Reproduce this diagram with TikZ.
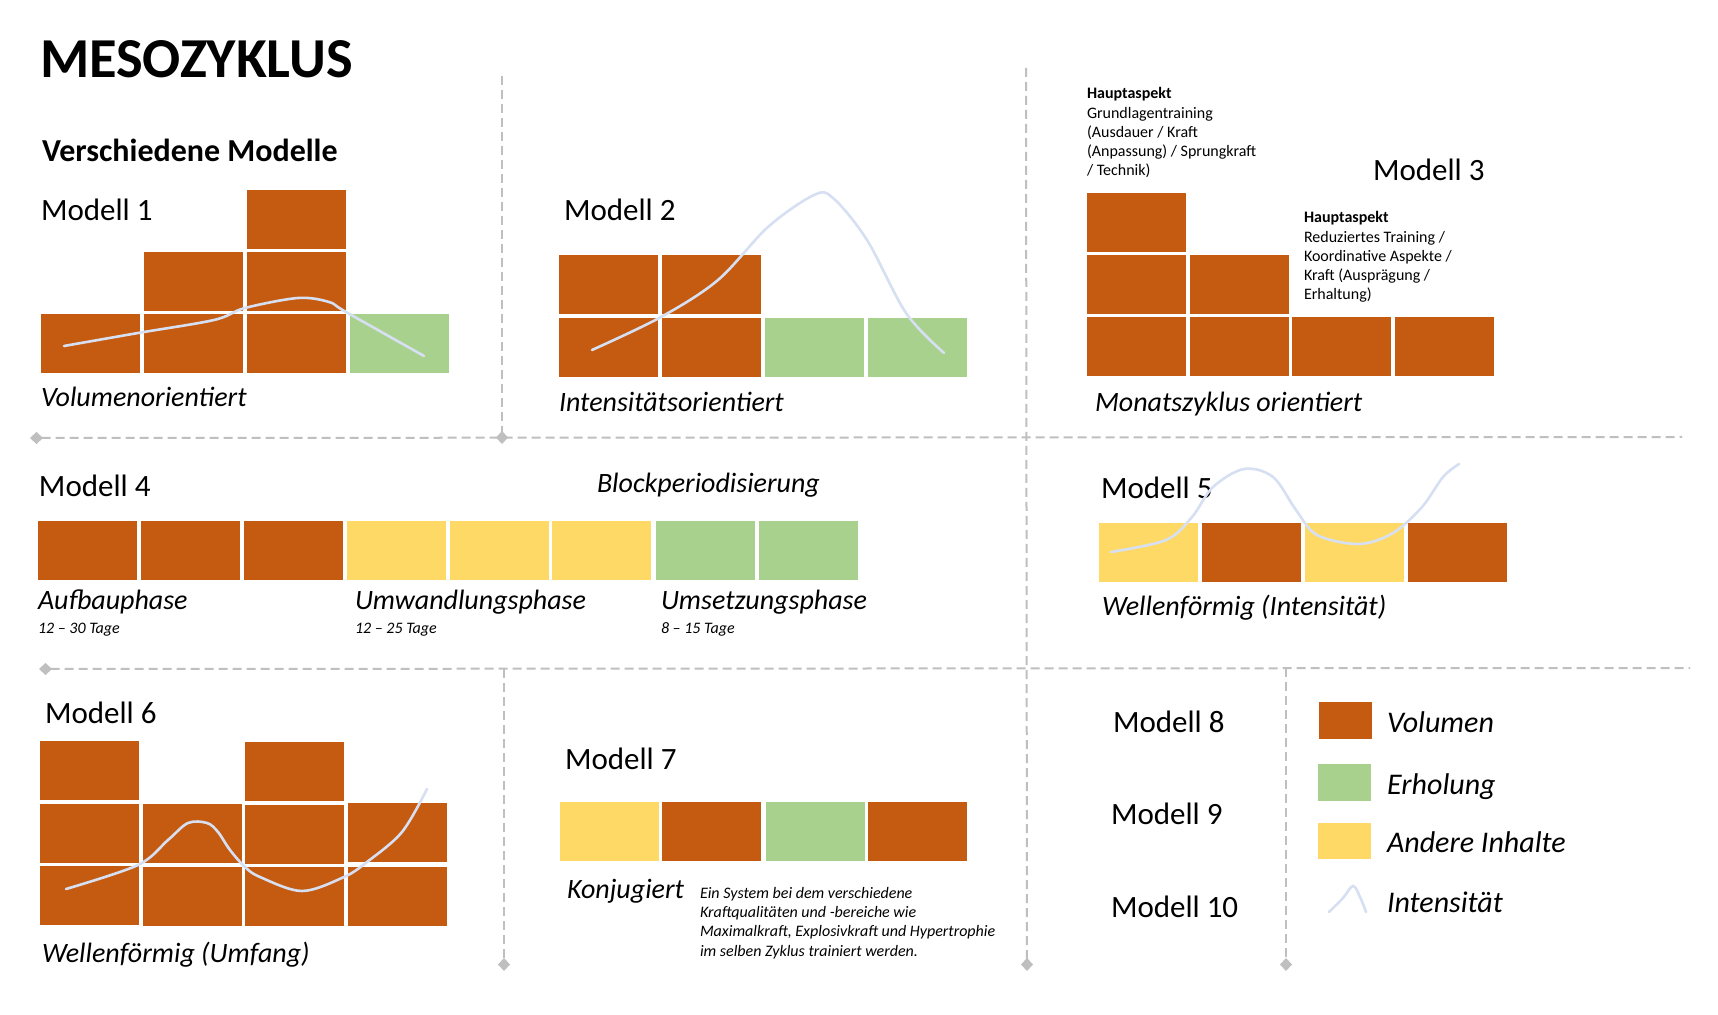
\documentclass[tikz,border=0pt]{standalone}
\usepackage{fontspec}
\setmainfont{Carlito}
\usetikzlibrary{arrows.meta}
\definecolor{vol}{HTML}{C55A11}
\definecolor{erh}{HTML}{A9D18E}
\definecolor{and}{HTML}{FFD966}
\definecolor{intc}{HTML}{D6E0F2}
\definecolor{sepc}{HTML}{BFBFBF}
\newcommand{\blk}[3]{\fill[#1] (#2,#3) rectangle ++(99,59);}
\tikzset{
  lbl/.style={anchor=base west, inner sep=0pt, outer sep=0pt},
  mtitle/.style={lbl, font=\fontsize{15.5}{18}\selectfont},
  ital/.style={lbl, font=\fontsize{14}{17}\selectfont\itshape},
  legtxt/.style={lbl, font=\fontsize{15}{18}\selectfont\itshape},
  tiny/.style={lbl, font=\fontsize{8}{9.65}\selectfont, align=left},
  tinyit/.style={lbl, font=\fontsize{8}{9.65}\selectfont\itshape, align=left},
  sepline/.style={draw=sepc, line width=1pt, dash pattern=on 4.5pt off 2.5pt},
  dia/.style={-{Diamond[length=6.5pt,width=6pt,fill=sepc,color=sepc]}},
  diaL/.style={{Diamond[length=6.5pt,width=6pt,fill=sepc,color=sepc]}-},
  intline/.style={draw=intc, line width=1.3pt, line cap=round}
}
\begin{document}
\begin{tikzpicture}[x=0.5pt,y=-0.5pt]
\useasboundingbox[fill=white] (0,0) rectangle (1718,1015);

% separators
\coordinate (v1t) at (502,76);   \coordinate (v1b) at (502,444);
\coordinate (h1l) at (30,438);   \coordinate (h1r) at (1682,437);
\coordinate (v2t) at (1026,68);  \coordinate (v2b) at (1027,971);
\coordinate (h2l) at (39,669);   \coordinate (h2r) at (1690,668);
\coordinate (v3t) at (504,669);  \coordinate (v3b) at (504,971);
\coordinate (v4t) at (1286,668); \coordinate (v4b) at (1286,971);
\draw[sepline,dia] (v1t) -- (v1b);
\draw[sepline,diaL] (h1l) -- (h1r);
\draw[sepline,dia] (v2t) -- (v2b);
\draw[sepline,diaL] (h2l) -- (h2r);
\draw[sepline,dia] (v3t) -- (v3b);
\draw[sepline,dia] (v4t) -- (v4b);

% titles
\node[lbl, font=\fontsize{28.2}{33}\selectfont\bfseries] (title) at (40,78) {MESOZYKLUS};
\node[lbl, font=\fontsize{16}{19}\selectfont\bfseries] (sub) at (42,162) {Verschiedene Modelle};

% Modell 1
\node[mtitle] (m1) at (41,221) {Modell 1};
\blk{vol}{41}{314}\blk{vol}{144}{314}\blk{vol}{247}{314}\blk{erh}{350}{314}
\blk{vol}{144}{252}\blk{vol}{247}{252}
\blk{vol}{247}{190}
\draw[intline] plot[smooth, tension=0.55] coordinates {(64,346) (138,333) (214,320) (245,308) (298,298) (329,302) (346,312) (424,356)};
\node[ital] (m1l) at (41,407) {Volumenorientiert};

% Modell 2
\node[mtitle] (m2) at (564,221) {Modell 2};
\blk{vol}{559}{255}\blk{vol}{662}{255}
\blk{vol}{559}{318}\blk{vol}{662}{318}\blk{erh}{765}{318}\blk{erh}{868}{318}
\draw[intline] plot[smooth, tension=0.55] coordinates {(592,350) (661,317) (718,280) (768,227) (814,195) (833,198) (867,240) (906,313) (944,353)};
\node[ital] (m2l) at (559,412) {Intensitätsorientiert};

% Modell 3
\node[tiny] (m3a) at (1087,176) {\textbf{Hauptaspekt}\\Grundlagentraining\\(Ausdauer / Kraft\\(Anpassung) / Sprungkraft\\/ Technik)};
\node[mtitle] (m3) at (1373,181) {Modell 3};
\node[tiny] (m3b) at (1304,300) {\textbf{Hauptaspekt}\\Reduziertes Training /\\Koordinative Aspekte /\\Kraft (Ausprägung /\\Erhaltung)};
\blk{vol}{1087}{193}
\blk{vol}{1087}{255}\blk{vol}{1190}{255}
\blk{vol}{1087}{317}\blk{vol}{1190}{317}\blk{vol}{1292}{317}\blk{vol}{1395}{317}
\node[ital] (m3l) at (1095,412) {Monatszyklus orientiert};

% Modell 4
\node[mtitle] (m4) at (39,497) {Modell 4};
\node[ital] (m4t) at (597,493) {Blockperiodisierung};
\blk{vol}{38}{521}\blk{vol}{141}{521}\blk{vol}{244}{521}
\blk{and}{347}{521}\blk{and}{450}{521}\blk{and}{552}{521}
\blk{erh}{656}{521}\blk{erh}{759}{521}
\node[ital] (p1) at (38,610) {Aufbauphase};
\node[ital] (p2) at (355,610) {Umwandlungsphase};
\node[ital] (p3) at (661,610) {Umsetzungsphase};
\node[tinyit] (d1) at (38,633) {12 – 30 Tage};
\node[tinyit] (d2) at (355,633) {12 – 25 Tage};
\node[tinyit] (d3) at (661,633) {8 – 15 Tage};

% Modell 5
\node[mtitle] (m5) at (1101,499) {Modell 5};
\blk{and}{1099}{523}\blk{vol}{1202}{523}\blk{and}{1305}{523}\blk{vol}{1408}{523}
\draw[intline] plot[smooth, tension=0.55] coordinates {(1111,552) (1166,540) (1192,517) (1213,487) (1244,469) (1273,477) (1296,510) (1317,535) (1359,544) (1393,533) (1422,507) (1443,477) (1459,464)};
\node[ital] (m5l) at (1102,615) {Wellenförmig (Intensität)};

% Modell 6
\node[mtitle] (m6) at (45,723) {Modell 6};
\blk{vol}{40}{741}\blk{vol}{40}{804}\blk{vol}{40}{866}
\blk{vol}{143}{804}\blk{vol}{143}{867}
\blk{vol}{245}{742}\blk{vol}{245}{805}\blk{vol}{245}{867}
\blk{vol}{348}{803}\blk{vol}{348}{867}
\draw[intline] plot[smooth, tension=0.55] coordinates {(66,889) (138,865) (168,840) (188,823) (207,823) (218,832) (230,850) (245,867) (260,877) (302,891) (344,877) (367,862) (402,832) (427,789)};
\node[ital] (m6l) at (42,962) {Wellenförmig (Umfang)};

% Modell 7
\node[mtitle] (m7) at (565,769) {Modell 7};
\blk{and}{560}{802}\blk{vol}{662}{802}\blk{erh}{766}{802}\blk{vol}{868}{802}
\node[ital] (m7l) at (567,898) {Konjugiert};
\node[tinyit] (m7d) at (700,956) {Ein System bei dem verschiedene\\Kraftqualitäten und -bereiche wie\\Maximalkraft, Explosivkraft und Hypertrophie\\im selben Zyklus trainiert werden.};

% Modelle 8-10
\node[mtitle] (m8) at (1113,732) {Modell 8};
\node[mtitle] (m9) at (1111,824) {Modell 9};
\node[mtitle] (m10) at (1111,917) {Modell 10};

% Legend
\fill[vol] (1319,702) rectangle (1372,739);
\fill[erh] (1318,764) rectangle (1371,801);
\fill[and] (1318,823) rectangle (1371,859);
\draw[intline] plot[smooth, tension=0.6] coordinates {(1329,912) (1343,898) (1353,886) (1360,897) (1366,912)};
\node[legtxt] (l1) at (1387,732) {Volumen};
\node[legtxt] (l2) at (1387,794) {Erholung};
\node[legtxt] (l3) at (1387,852) {Andere Inhalte};
\node[legtxt] (l4) at (1387,912) {Intensität};
\end{tikzpicture}
\end{document}
